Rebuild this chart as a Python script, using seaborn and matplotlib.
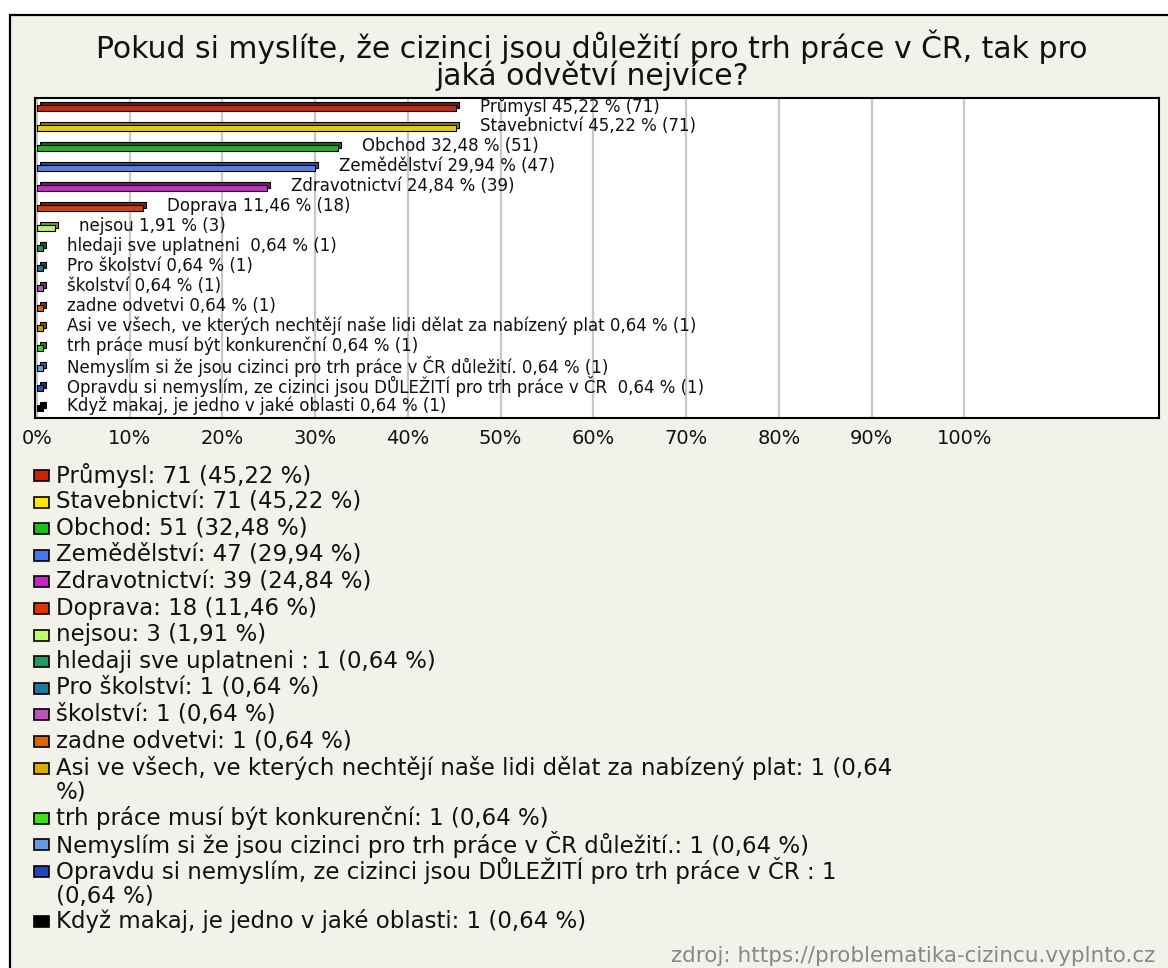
import matplotlib
matplotlib.use("Agg")
import matplotlib.pyplot as plt
import matplotlib.colors as mcolors
from matplotlib.patches import Rectangle
from matplotlib.transforms import offset_copy
import seaborn as sns
import pandas as pd

# ---------------- data ----------------
TITLE = "Pokud si myslíte, že cizinci jsou důležití pro trh práce v ČR, tak pro\njaká odvětví nejvíce?"
categories = [
    "Průmysl",
    "Stavebnictví",
    "Obchod",
    "Zemědělství",
    "Zdravotnictví",
    "Doprava",
    "nejsou",
    "hledaji sve uplatneni ",
    "Pro školství",
    "školství",
    "zadne odvetvi",
    "Asi ve všech, ve kterých nechtějí naše lidi dělat za nabízený plat",
    "trh práce musí být konkurenční",
    "Nemyslím si že jsou cizinci pro trh práce v ČR důležití.",
    "Opravdu si nemyslím, ze cizinci jsou DŮLEŽITÍ pro trh práce v ČR ",
    "Když makaj, je jedno v jaké oblasti",
]
counts = [71, 71, 51, 47, 39, 18, 3, 1, 1, 1, 1, 1, 1, 1, 1, 1]
percents = [45.22, 45.22, 32.48, 29.94, 24.84, 11.46, 1.91, 0.64, 0.64, 0.64,
            0.64, 0.64, 0.64, 0.64, 0.64, 0.64]
colors = ["#cc2200", "#ffe600", "#1fbb1f", "#4477ee", "#cc22cc", "#dd3300",
          "#bbff66", "#22995f", "#237799", "#bb55bb", "#dd6600", "#ddaa00",
          "#44dd22", "#6699dd", "#2244bb", "#000000"]
xticks = [0, 10, 20, 30, 40, 50, 60, 70, 80, 90, 100]
xtick_labels = ["0%", "10%", "20%", "30%", "40%", "50%", "60%", "70%", "80%", "90%", "100%"]
SOURCE = "zdroj: https://problematika-cizincu.vyplnto.cz"

# ---------------- style ----------------
sns.set_style("white")
plt.rcParams["font.family"] = ["DejaVu Sans"]
W, H = 1168, 968
fig = plt.figure(figsize=(W / 100, H / 100), dpi=100, facecolor="white")

def fx(px):
    return px / W

def fy(py):
    return 1 - py / H

def czpct(v):
    return f"{v:.2f}".replace(".", ",")

# cream panel with frame (top and left edge visible)
fig.add_artist(Rectangle((fx(10), fy(1000)), fx(1200), (1000 - 15) / H,
                         transform=fig.transFigure, facecolor="#f3f2ea",
                         edgecolor="black", linewidth=1.6, zorder=0))

fig.text(fx(592), fy(60), TITLE, ha="center", va="center", fontsize=21.5,
         linespacing=0.86, color="#111111")

# ---------------- bar chart ----------------
ax = fig.add_axes([fx(35), fy(418), fx(1159 - 35), 320 / H])
ax.set_facecolor("white")
df = pd.DataFrame({"cat": categories, "pct": percents})
dark = [tuple(c * 0.6 for c in mcolors.to_rgb(col)) for col in colors]

# back (depth) bars, shifted up/right to give the 3D look
sns.barplot(data=df, x="pct", y="cat", hue="cat", palette=dark, orient="h",
            width=0.27, dodge=False, legend=False, ax=ax,
            edgecolor="black", linewidth=0.8)
n_back = len(ax.patches)
shift = offset_copy(ax.transData, fig=fig, x=3, y=3, units="dots")
for p in ax.patches:
    p.set_transform(shift)
    p.set_zorder(2)
# front bars
sns.barplot(data=df, x="pct", y="cat", hue="cat", palette=colors, orient="h",
            width=0.27, dodge=False, legend=False, ax=ax,
            edgecolor="black", linewidth=0.8)
for p in ax.patches[n_back:]:
    p.set_zorder(3)

for i, (cat, pct, n) in enumerate(zip(categories, percents, counts)):
    lbl = f"{cat} {czpct(pct)} % ({n})"
    ax.annotate(lbl, xy=(pct, i), xytext=(24, 2), textcoords="offset pixels",
                ha="left", va="center", fontsize=12, color="#111111", zorder=4)

ax.set_xlim(-0.2, 121)
ax.set_ylim(len(categories) - 0.5, -0.5)
ax.set_xticks(xticks)
ax.set_xticklabels(xtick_labels, fontsize=14, color="#111111")
ax.set_yticks([])
ax.set_xlabel("")
ax.set_ylabel("")
ax.tick_params(axis="x", length=0, pad=8)
ax.grid(axis="x", color="#c8c8c8", linewidth=1.6)
ax.set_axisbelow(True)
for s in ax.spines.values():
    s.set_visible(True)
    s.set_color("black")
    s.set_linewidth(1.5)

# ---------------- legend ----------------
legend_labels = [f"{cat}: {n} ({czpct(pct)} %)"
                 for cat, pct, n in zip(categories, percents, counts)]
# explicit wraps as in the reference
wrapped = []
for s in legend_labels:
    if s.startswith("Asi ve"):
        wrapped.append([s[:-3], s[-2:]])
    elif s.startswith("Opravdu"):
        k = s.rfind(" (")
        wrapped.append([s[:k], s[k + 1:]])
    else:
        wrapped.append([s])

LEG_FS = 16.5
WRAP_STEP = 23.5
y = 475.0
for lines, col in zip(wrapped, colors):
    fig.add_artist(Rectangle((fx(34), fy(y + 6)), fx(15), 11 / H,
                             transform=fig.transFigure, facecolor=col,
                             edgecolor="black", linewidth=1.2, zorder=2))
    nl = len(lines)
    yc = y + WRAP_STEP * (nl - 1) / 2
    fig.text(fx(56), fy(yc), "\n".join(lines), ha="left", va="center",
             fontsize=LEG_FS, linespacing=WRAP_STEP / (LEG_FS * 100 / 72),
             color="#111111")
    y += WRAP_STEP * (nl - 1) + 26.6

fig.text(fx(1155), fy(956), SOURCE, ha="right", va="center", fontsize=15.5,
         color="#888888")

fig.savefig("out.png", dpi=100, facecolor=fig.get_facecolor())
